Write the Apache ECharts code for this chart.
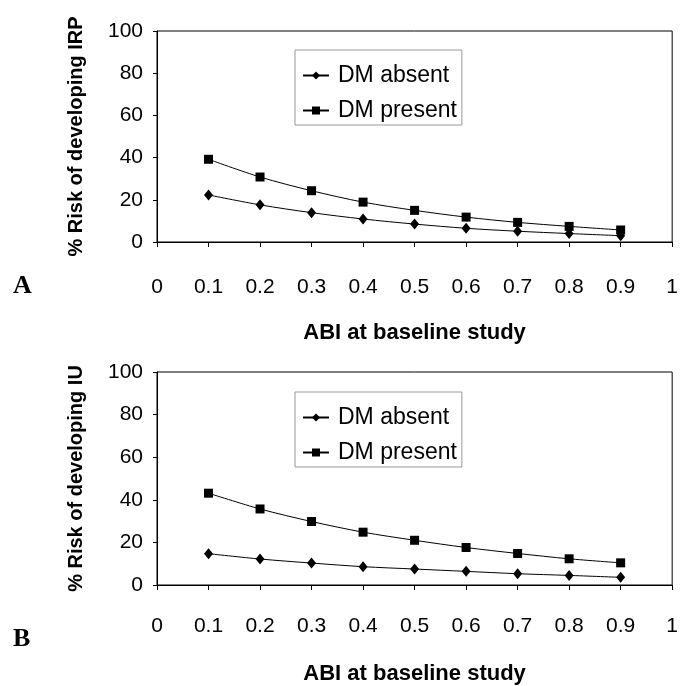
<!DOCTYPE html>
<html lang="en">
<head>
    <meta charset="utf-8">
    <title>Risk of developing IRP / IU vs ABI</title>
    <script src="https://cdn.jsdelivr.net/npm/echarts@6/dist/echarts.min.js"></script>
    <style>
        html, body { margin: 0; padding: 0; background: #fff; }
        #main { width: 681px; height: 686px; }
    </style>
</head>
<body>
<div id="main"></div>
<script type="text/javascript">
    // ABI at baseline study
    var abi = [0.1, 0.2, 0.3, 0.4, 0.5, 0.6, 0.7, 0.8, 0.9];
    // panel A: % risk of developing IRP
    var irpAbsent  = [22.3, 17.6, 13.9, 10.9, 8.5, 6.5, 5.1, 4.0, 3.0];
    var irpPresent = [39.2, 30.8, 24.3, 18.9, 15.0, 11.8, 9.3, 7.4, 5.7];
    // panel B: % risk of developing IU
    var iuAbsent   = [14.7, 12.2, 10.3, 8.6, 7.5, 6.4, 5.3, 4.5, 3.6];
    var iuPresent  = [43.1, 35.7, 29.8, 24.8, 21.0, 17.6, 14.8, 12.3, 10.4];
    var seriesNames = ['DM absent', 'DM present'];
    var panelLetters = ['A', 'B'];

    var font = 'Liberation Sans, Arial, sans-serif';

    function pairs(ys) {
        var out = [];
        for (var i = 0; i < abi.length; i++) {
            out.push([abi[i], ys[i]]);
        }
        return out;
    }

    function xAxisFor(idx, gap, nameGap) {
        return {
            gridIndex: idx,
            type: 'value',
            min: 0, max: 1, interval: 0.1,
            name: 'ABI at baseline study',
            nameLocation: 'middle',
            nameGap: nameGap,
            nameTextStyle: { fontFamily: font, fontWeight: 'bold', fontSize: 22, color: '#000' },
            axisLine: { lineStyle: { color: '#000', width: 1 } },
            axisTick: { show: true, length: 5, lineStyle: { color: '#000' } },
            axisLabel: { margin: gap, fontFamily: font, fontSize: 21, color: '#000' },
            splitLine: { show: false }
        };
    }

    function yAxisFor(idx, title) {
        return {
            gridIndex: idx,
            type: 'value',
            min: 0, max: 100, interval: 20,
            name: title,
            nameLocation: 'middle',
            nameGap: 71,
            nameTextStyle: { fontFamily: font, fontWeight: 'bold', fontSize: 20, color: '#000' },
            axisLine: { show: true, lineStyle: { color: '#000', width: 1 } },
            axisTick: { show: true, length: 4, lineStyle: { color: '#000' } },
            axisLabel: { margin: 14, fontFamily: font, fontSize: 21, color: '#000' },
            splitLine: { show: false }
        };
    }

    function lineSeries(name, idx, ys, symbol, size) {
        return {
            name: name,
            type: 'line',
            xAxisIndex: idx,
            yAxisIndex: idx,
            data: pairs(ys),
            smooth: 0.3,
            symbol: symbol,
            symbolSize: size,
            showAllSymbol: true,
            lineStyle: { color: '#000', width: 1 },
            itemStyle: { color: '#000' },
            emphasis: { disabled: true },
            z: name === 'DM present' ? 3 : 2
        };
    }

    function legendFor(top) {
        return {
            data: seriesNames,
            orient: 'vertical',
            left: 295,
            top: top,
            itemWidth: 26,
            itemHeight: 10,
            itemGap: 12,
            padding: [14, 5, 3, 7],
            borderColor: '#999',
            borderWidth: 1,
            selectedMode: false,
            textStyle: { fontFamily: font, fontSize: 23, color: '#000', padding: [0, 0, 0, 4] }
        };
    }

    var chart = echarts.init(document.getElementById('main'), null, { renderer: 'canvas' });

    var option = {
        animation: false,
        backgroundColor: '#fff',
        grid: [
            { left: 157, right: 6, top: 31, height: 211, show: true, borderColor: '#000', borderWidth: 1, backgroundColor: 'transparent' },
            { left: 157, right: 6, top: 372, height: 214, show: true, borderColor: '#000', borderWidth: 1, backgroundColor: 'transparent' }
        ],
        xAxis: [xAxisFor(0, 35, 80), xAxisFor(1, 31, 78)],
        yAxis: [yAxisFor(0, '% Risk of developing IRP'), yAxisFor(1, '% Risk of developing IU')],
        legend: [legendFor(50), legendFor(392)],
        series: [
            lineSeries(seriesNames[0], 0, irpAbsent, 'diamond', [9, 11]),
            lineSeries(seriesNames[1], 0, irpPresent, 'rect', 9),
            lineSeries(seriesNames[0], 1, iuAbsent, 'diamond', [9, 11]),
            lineSeries(seriesNames[1], 1, iuPresent, 'rect', 9)
        ],
        graphic: [
            {
                type: 'text', left: 13, top: 273,
                style: { text: panelLetters[0], font: 'bold 26px "Liberation Serif", serif', fill: '#000' }
            },
            {
                type: 'text', left: 13, top: 626,
                style: { text: panelLetters[1], font: 'bold 26px "Liberation Serif", serif', fill: '#000' }
            }
        ]
    };

    chart.setOption(option);
</script>
</body>
</html>
